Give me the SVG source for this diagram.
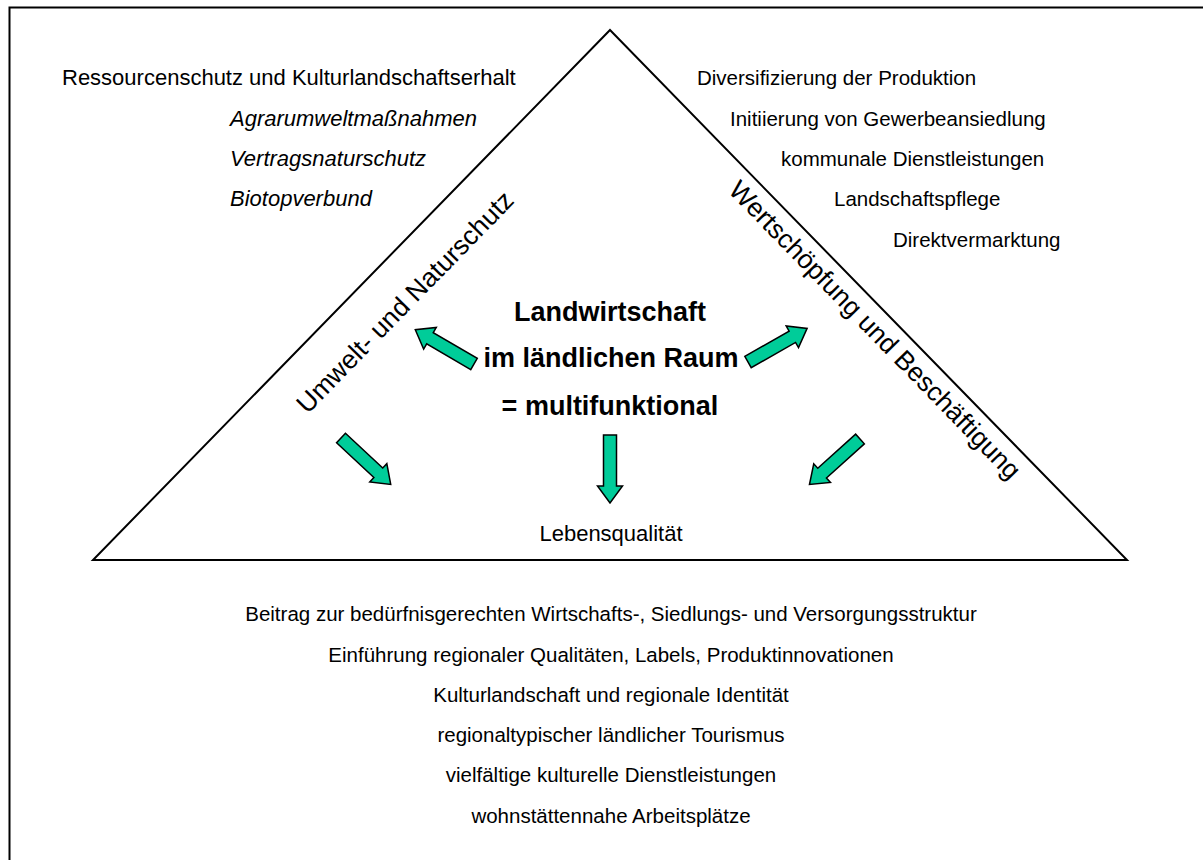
<svg xmlns="http://www.w3.org/2000/svg" xmlns:xlink="http://www.w3.org/1999/xlink" width="1203" height="860" viewBox="0 0 1203 860">
<style>
  .t { font-family: "Liberation Sans", Arial, sans-serif; font-size: 20.5px; fill: #000; }
  .i { font-style: italic; }
  .b { font-weight: bold; font-size: 27px; }
  .r { font-size: 22px; }
  .s { font-size: 26.5px; }
  .c { text-anchor: middle; }
  .arrow { fill: #00CC99; stroke: #000; stroke-width: 1.5; stroke-linejoin: miter; }
</style>
<defs>
  <path id="arr" class="arrow" d="M0,-6.5 L51,-6.5 L51,-12.5 L68,0 L51,12.5 L51,6.5 L0,6.5 Z"/>
</defs>
<rect x="0" y="0" width="1203" height="860" fill="#fff"/>
<rect x="9.5" y="7.5" width="1220" height="900" fill="none" stroke="#000" stroke-width="2"/>

<g id="triangle">
  <polygon points="610,30 1127,560 93,560" fill="none" stroke="#000" stroke-width="2"/>
</g>

<g id="left-list">
  <text class="t r" x="62" y="85">Ressourcenschutz und Kulturlandschaftserhalt</text>
  <text class="t r i" x="230" y="126">Agrarumweltmaßnahmen</text>
  <text class="t r i" x="230" y="166">Vertragsnaturschutz</text>
  <text class="t r i" x="230" y="206">Biotopverbund</text>
</g>

<g id="right-list">
  <text class="t" x="697" y="85">Diversifizierung der Produktion</text>
  <text class="t" x="730" y="126">Initiierung von Gewerbeansiedlung</text>
  <text class="t" x="781" y="166">kommunale Dienstleistungen</text>
  <text class="t" x="834" y="206">Landschaftspflege</text>
  <text class="t" x="893" y="247">Direktvermarktung</text>
</g>

<g id="left-side-label">
  <text class="t s c" transform="translate(405,302) rotate(-45.7)" y="9">Umwelt- und Naturschutz</text>
</g>

<g id="right-side-label">
  <text class="t s c" transform="translate(875,330) rotate(45.7)" y="9">Wertschöpfung und Beschäftigung</text>
</g>

<g id="center">
  <text class="t b c" x="610" y="321">Landwirtschaft</text>
  <text class="t b c" x="611" y="367">im ländlichen Raum</text>
  <text class="t b c" x="610" y="415">= multifunktional</text>
</g>

<g id="lebensqualitaet">
  <text class="t r c" x="611" y="541">Lebensqualität</text>
</g>

<g id="connectors">
  <use xlink:href="#arr" href="#arr" transform="translate(474,364) rotate(210.3)"/>
  <use xlink:href="#arr" href="#arr" transform="translate(748,362) rotate(-29.6)"/>
  <use xlink:href="#arr" href="#arr" transform="translate(610,435) rotate(90)"/>
  <use xlink:href="#arr" href="#arr" transform="translate(341,438) rotate(43)"/>
  <use xlink:href="#arr" href="#arr" transform="translate(860,439) rotate(138)"/>
</g>

<g id="bottom-list">
  <text class="t c" x="611" y="621">Beitrag zur bedürfnisgerechten Wirtschafts-, Siedlungs- und Versorgungsstruktur</text>
  <text class="t c" x="611" y="662">Einführung regionaler Qualitäten, Labels, Produktinnovationen</text>
  <text class="t c" x="611" y="702">Kulturlandschaft und regionale Identität</text>
  <text class="t c" x="611" y="742">regionaltypischer ländlicher Tourismus</text>
  <text class="t c" x="611" y="782">vielfältige kulturelle Dienstleistungen</text>
  <text class="t c" x="611" y="823">wohnstättennahe Arbeitsplätze</text>
</g>
</svg>
